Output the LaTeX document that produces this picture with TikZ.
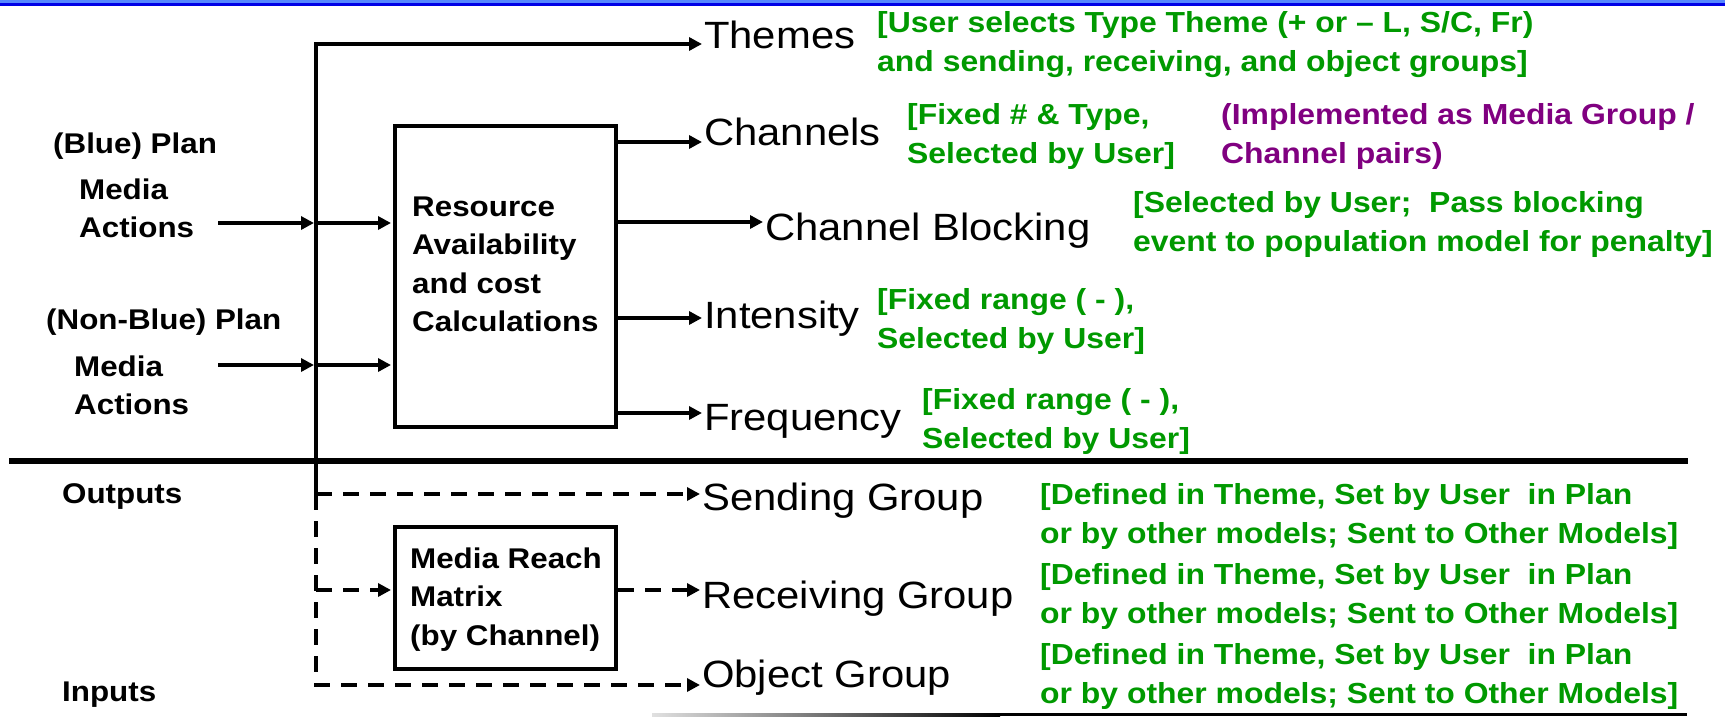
\documentclass[tikz,border=0pt]{standalone}
\usepackage{fontspec}
\setmainfont{Liberation Sans}[FakeStretch=1.1]
\usetikzlibrary{arrows.meta}

\definecolor{notegreen}{RGB}{0,153,0}
\definecolor{notepurple}{RGB}{128,0,128}
\definecolor{bandlight}{RGB}{85,135,255}
\definecolor{banddark}{RGB}{0,0,230}

\tikzset{
  wire/.style={line width=3.5pt},
  arr/.style={wire,-{Triangle[length=13pt,width=13pt]},shorten >=2pt},
  darr/.style={arr,dash pattern=on 16pt off 11pt},
  bigtxt/.style={anchor=base west,inner sep=0pt,font=\fontsize{38}{42}\selectfont},
  lbl/.style={anchor=base west,inner sep=0pt,align=left,font=\bfseries\fontsize{28.5}{38.5}\selectfont},
  note/.style={anchor=base west,inner sep=0pt,align=left,text=notegreen,font=\bfseries\fontsize{29}{39}\selectfont},
  procbox/.style={draw,line width=4pt,inner sep=0pt},
}

\begin{document}
\begin{tikzpicture}[x=1pt,y=-1pt]

\useasboundingbox (0,0) rectangle (1725,717);

\fill[bandlight] (0,0) rectangle (1725,3);
\fill[banddark] (0,3) rectangle (1725,6);

\coordinate (vtop) at (316,44);
\coordinate (vsend) at (316,494);
\coordinate (vrecv) at (316,590);
\coordinate (vobj) at (316,685);
\coordinate (in1) at (218,223);
\coordinate (in2) at (218,365);
\coordinate (ychan) at (0,142);
\coordinate (yblock) at (0,222);
\coordinate (yinten) at (0,318);
\coordinate (yfreq) at (0,413);
\coordinate (sepl) at (9,461);
\coordinate (sepr) at (1688,461);

% left side labels
\node[lbl] (blueplan) at (53,153) {(Blue) Plan};
\node[lbl] (blueact) at (79,237.5) {Media\\Actions};
\node[lbl] (redplan) at (46,329) {(Non-Blue) Plan};
\node[lbl] (redact) at (74,414.5) {Media\\Actions};
\node[lbl] (outlbl) at (62,503) {Outputs};
\node[lbl] (inlbl) at (62,701) {Inputs};

% boxes
\node[procbox,minimum width=221pt,minimum height=301pt] (res) at (505.5,276.5) {};
\node[lbl] (restxt) at (412,331.5) {Resource\\Availability\\and cost\\Calculations};
\node[procbox,minimum width=221pt,minimum height=142pt] (reach) at (505.5,598) {};
\node[lbl] (reachtxt) at (410,645) {Media Reach\\Matrix\\(by Channel)};

% outputs
\node[bigtxt] (themes) at (704,49) {Themes};
\node[bigtxt] (chan) at (704,145) {Channels};
\node[bigtxt] (block) at (765,240) {Channel Blocking};
\node[bigtxt] (inten) at (704,328) {Intensity};
\node[bigtxt] (freq) at (704,430) {Frequency};
\node[bigtxt] (send) at (702,510) {Sending Group};
\node[bigtxt] (recv) at (702,608) {Receiving Group};
\node[bigtxt] (obj) at (702,687) {Object Group};

\node[note] (themesnote) at (877,71) {[User selects Type Theme (+ or -- L, S/C, Fr)\\and sending, receiving, and object groups]};
\node[note] (channote) at (907,163) {[Fixed \# \& Type,\\Selected by User]};
\node[note,text=notepurple] (chanimpl) at (1221,163) {(Implemented as Media Group /\\Channel pairs)};
\node[note] (blocknote) at (1133,251) {[Selected by User;\ \ Pass blocking\\event to population model for penalty]};
\node[note] (intennote) at (877,348) {[Fixed range ( - ),\\Selected by User]};
\node[note] (freqnote) at (922,448) {[Fixed range ( - ),\\Selected by User]};
\node[note] (sendnote) at (1040,543) {[Defined in Theme, Set by User\ \ in Plan\\or by other models; Sent to Other Models]};
\node[note] (recvnote) at (1040,623) {[Defined in Theme, Set by User\ \ in Plan\\or by other models; Sent to Other Models]};
\node[note] (objnote) at (1040,703) {[Defined in Theme, Set by User\ \ in Plan\\or by other models; Sent to Other Models]};

\draw[arr] (vsend) -- (vtop) -- (themes.west |- vtop);
\draw[arr] (in1) -- (vtop |- in1);
\draw[arr] (vtop |- in1) -- (res.west |- in1);
\draw[arr] (in2) -- (vtop |- in2);
\draw[arr] (vtop |- in2) -- (res.west |- in2);

\draw[arr] (res.east |- ychan) -- (chan.west |- ychan);
\draw[arr] (res.east |- yblock) -- (block.west |- yblock);
\draw[arr] (res.east |- yinten) -- (inten.west |- yinten);
\draw[arr] (res.east |- yfreq) -- (freq.west |- yfreq);

\draw[line width=5.5pt] (sepl) -- (sepr);

\draw[darr] (vsend) -- (send.west |- vsend);
\draw[darr] (vsend) -- (vobj) -- (obj.west |- vobj);
\draw[darr] (vrecv) -- (reach.west |- vrecv);
\draw[darr] (reach.east |- vrecv) -- (recv.west |- vrecv);

\shade[left color=black!12,right color=black] (652,713) rectangle (1000,716);
\fill[black] (1000,713) rectangle (1687,716);

\end{tikzpicture}
\end{document}
